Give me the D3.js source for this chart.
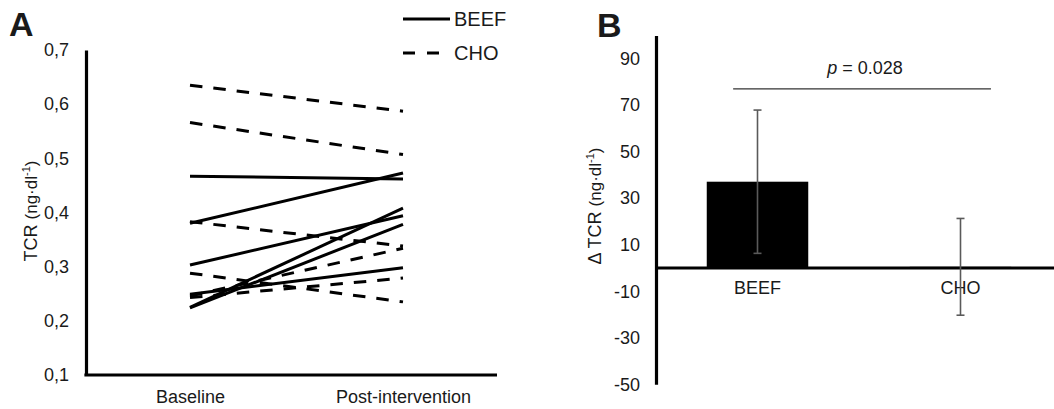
<!DOCTYPE html>
<html>
<head>
<meta charset="utf-8">
<script src="https://cdn.jsdelivr.net/npm/d3@7"></script>
<style>
  body { margin: 0; background: #fff; }
  svg { display: block; font-family: "Liberation Sans", Arial, sans-serif; }
  text { fill: #1a1a1a; }
</style>
</head>
<body>
<svg id="chart" width="1054" height="409"></svg>
<script>
// ---------- Data ----------
const timepoints = ["Baseline", "Post-intervention"];
const beefBaseline = [0.467, 0.380, 0.303, 0.249, 0.225, 0.224];
const beefPost     = [0.462, 0.473, 0.394, 0.298, 0.408, 0.378];
const choBaseline  = [0.635, 0.566, 0.383, 0.288, 0.246, 0.243];
const choPost      = [0.587, 0.507, 0.338, 0.235, 0.334, 0.279];
const tickLabelsA  = [0.1, 0.2, 0.3, 0.4, 0.5, 0.6, 0.7];

const groups     = ["BEEF", "CHO"];
const deltaMean  = [37.1, 0.5];
const deltaSD    = [30.8, 20.8];
const tickLabelsB = [-50, -30, -10, 10, 30, 50, 70, 90];
const pValueText = "0.028";
const bracketLevel = 77;

// ---------- Setup ----------
const svg = d3.select("#chart");
const ink = "#000";
const fontFam = "Liberation Sans, Arial, sans-serif";

// ================= Panel A =================
const xA = d3.scalePoint().domain(timepoints).range([190, 403]);
const yA = d3.scaleLinear().domain([0.1, 0.7]).range([375, 50]);
const axisAx0 = 86, axisAx1 = 497;

const gA = svg.append("g");

// y axis
const yAxisA = gA.append("g")
  .attr("transform", `translate(${axisAx0},0)`)
  .call(d3.axisLeft(yA).tickValues(tickLabelsA).tickSize(0).tickPadding(17)
        .tickFormat(d => d.toFixed(1).replace(".", ",")));
yAxisA.select(".domain").attr("stroke", ink).attr("stroke-width", 3.2);
yAxisA.selectAll("text").attr("font-size", 18).attr("fill", "#1a1a1a")
  .attr("font-family", fontFam);

// x axis (labels)
const xAxisA = gA.append("g")
  .attr("transform", `translate(0,${yA(0.1)})`)
  .call(d3.axisBottom(xA).tickSize(0).tickPadding(15));
xAxisA.select(".domain").remove();
xAxisA.selectAll("text").attr("font-size", 18).attr("fill", "#1a1a1a")
  .attr("font-family", fontFam);
gA.append("line")
  .attr("x1", axisAx0 - 1.6).attr("x2", axisAx1)
  .attr("y1", yA(0.1)).attr("y2", yA(0.1))
  .attr("stroke", ink).attr("stroke-width", 3.2);

// subject lines
const lineGen = d3.line().x(d => xA(d[0])).y(d => yA(d[1]));
const choLines = choBaseline.map((b, i) => [[timepoints[0], b], [timepoints[1], choPost[i]]]);
const beefLines = beefBaseline.map((b, i) => [[timepoints[0], b], [timepoints[1], beefPost[i]]]);

gA.selectAll("path.cho").data(choLines).join("path")
  .attr("class", "cho")
  .attr("d", lineGen)
  .attr("fill", "none").attr("stroke", ink).attr("stroke-width", 3)
  .attr("stroke-dasharray", "12.5,11");

gA.selectAll("path.beef").data(beefLines).join("path")
  .attr("class", "beef")
  .attr("d", lineGen)
  .attr("fill", "none").attr("stroke", ink).attr("stroke-width", 3);

// legend
const legend = gA.append("g");
legend.append("line").attr("x1", 403).attr("x2", 450).attr("y1", 19).attr("y2", 19)
  .attr("stroke", ink).attr("stroke-width", 3);
legend.append("text").attr("x", 454).attr("y", 26).attr("font-size", 20).text(groups[0]);
legend.append("line").attr("x1", 403).attr("x2", 450).attr("y1", 53).attr("y2", 53)
  .attr("stroke", ink).attr("stroke-width", 3).attr("stroke-dasharray", "12,12");
legend.append("text").attr("x", 454).attr("y", 60).attr("font-size", 20).text(groups[1]);

// y title A
const titleA = gA.append("text")
  .attr("transform", "translate(37,211) rotate(-90)")
  .attr("text-anchor", "middle");
titleA.append("tspan").attr("font-size", 18).text("TCR ");
titleA.append("tspan").attr("font-size", 17).text("(ng·dl");
titleA.append("tspan").attr("font-size", 11).attr("dy", -7).text("-1");
titleA.append("tspan").attr("font-size", 17).attr("dy", 7).text(")");

// panel letter
svg.append("text").attr("x", 9).attr("y", 36).attr("font-size", 34)
  .attr("font-weight", "bold").attr("fill", "#000").text("A");

// ================= Panel B =================
const xB = d3.scaleBand().domain(groups).range([656, 1062]).paddingInner(0).paddingOuter(0);
const yB = d3.scaleLinear().domain([-50, 100]).range([384.3, 35.4]);
const gB = svg.append("g");

const yAxisB = gB.append("g")
  .attr("transform", `translate(656,0)`)
  .call(d3.axisLeft(yB).tickValues(tickLabelsB).tickSize(0).tickPadding(16)
        .tickFormat(d => String(d)));
yAxisB.select(".domain").attr("stroke", ink).attr("stroke-width", 3.2);
yAxisB.selectAll("text").attr("font-size", 18).attr("fill", "#1a1a1a")
  .attr("font-family", fontFam);

// bars
const barW = xB.bandwidth() * 0.5;
gB.selectAll("rect.bar").data(groups).join("rect")
  .attr("class", "bar")
  .attr("x", d => xB(d) + xB.bandwidth() / 2 - barW / 2)
  .attr("width", barW)
  .attr("y", (d, i) => yB(Math.max(0, deltaMean[i])))
  .attr("height", (d, i) => Math.abs(yB(deltaMean[i]) - yB(0)))
  .attr("fill", "#000");

// zero axis with category labels
const xAxisB = gB.append("g")
  .attr("transform", `translate(0,${yB(0)})`)
  .call(d3.axisBottom(xB).tickSize(0).tickPadding(13));
xAxisB.select(".domain").remove();
xAxisB.selectAll("text").attr("font-size", 18).attr("fill", "#1a1a1a")
  .attr("font-family", fontFam);
gB.append("line").attr("x1", 656).attr("x2", 1054)
  .attr("y1", yB(0)).attr("y2", yB(0))
  .attr("stroke", ink).attr("stroke-width", 3.2);

// error bars
const cx = d => xB(d) + xB.bandwidth() / 2;
const eb = gB.selectAll("g.err").data(groups).join("g").attr("class", "err")
  .attr("stroke", "#5a5a5a").attr("stroke-width", 1.6);
eb.append("line").attr("x1", cx).attr("x2", cx)
  .attr("y1", (d, i) => yB(deltaMean[i] + deltaSD[i]))
  .attr("y2", (d, i) => yB(deltaMean[i] - deltaSD[i]));
eb.append("line").attr("x1", d => cx(d) - 4).attr("x2", d => cx(d) + 4)
  .attr("y1", (d, i) => yB(deltaMean[i] + deltaSD[i]))
  .attr("y2", (d, i) => yB(deltaMean[i] + deltaSD[i]));
eb.append("line").attr("x1", d => cx(d) - 4).attr("x2", d => cx(d) + 4)
  .attr("y1", (d, i) => yB(deltaMean[i] - deltaSD[i]))
  .attr("y2", (d, i) => yB(deltaMean[i] - deltaSD[i]));

// significance bracket
const bx1 = xB(groups[0]) + xB.bandwidth() * 0.38;
const bx2 = xB(groups[1]) + xB.bandwidth() * 0.65;
gB.append("line").attr("x1", bx1).attr("x2", bx2)
  .attr("y1", yB(bracketLevel)).attr("y2", yB(bracketLevel))
  .attr("stroke", "#333").attr("stroke-width", 1.3);
const pt = gB.append("text").attr("x", (bx1 + bx2) / 2 + 3).attr("y", yB(bracketLevel) - 15)
  .attr("text-anchor", "middle").attr("font-size", 18);
pt.append("tspan").attr("font-style", "italic").text("p");
pt.append("tspan").text(" = " + pValueText);

// y title B
const titleB = gB.append("text")
  .attr("transform", "translate(601,206) rotate(-90)")
  .attr("text-anchor", "middle");
titleB.append("tspan").attr("font-size", 18).text("Δ TCR ");
titleB.append("tspan").attr("font-size", 17).text("(ng·dl");
titleB.append("tspan").attr("font-size", 11).attr("dy", -7).text("-1");
titleB.append("tspan").attr("font-size", 17).attr("dy", 7).text(")");

svg.append("text").attr("x", 597).attr("y", 37).attr("font-size", 34)
  .attr("font-weight", "bold").attr("fill", "#000").text("B");
</script>
</body>
</html>
